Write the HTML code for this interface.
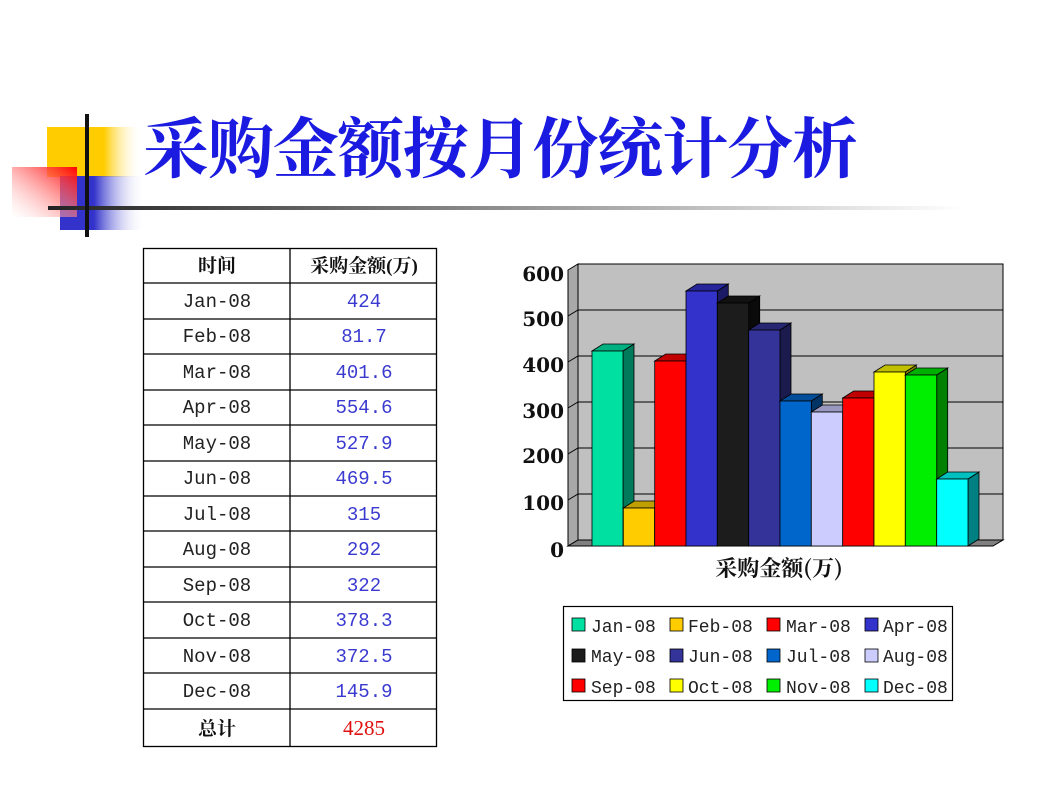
<!DOCTYPE html>
<html><head><meta charset="utf-8"><style>
html,body{margin:0;padding:0;background:#fff;width:1060px;height:795px;overflow:hidden}
svg{display:block}
.m{font-family:"Liberation Mono","Noto Sans CJK SC",monospace;font-size:19px;fill:#222}
.l{font-family:"Liberation Mono",monospace;font-size:18px;fill:#222}
.v{font-family:"Liberation Mono",monospace;font-size:19px;fill:#3a3ad0}
.h{font-family:"Liberation Serif","Noto Serif CJK SC",serif;font-size:19px;font-weight:bold;fill:#111}
.y{font-family:"DejaVu Serif","Liberation Serif",serif;font-size:20px;font-weight:bold;fill:#111}
</style></head><body>
<svg width="1060" height="795" viewBox="0 0 1060 795">
<defs>
<linearGradient id="gy" x1="0" x2="1"><stop offset="0.6" stop-color="#ffcc00"/><stop offset="1" stop-color="#fff" stop-opacity="0"/></linearGradient>
<linearGradient id="gb" x1="0" x2="1"><stop offset="0.4" stop-color="#3333cc"/><stop offset="1" stop-color="#fff" stop-opacity="0"/></linearGradient>
<linearGradient id="gr" x1="1" y1="0" x2="0" y2="1"><stop offset="0" stop-color="#ff0000"/><stop offset="1" stop-color="#fff" stop-opacity="0.3"/></linearGradient>
<linearGradient id="gl" x1="0" x2="1"><stop offset="0" stop-color="#222"/><stop offset="1" stop-color="#fff"/></linearGradient>
</defs>
<rect x="47" y="127" width="95" height="50" fill="url(#gy)"/>
<rect x="60" y="176" width="85" height="54" fill="url(#gb)"/>
<rect x="12" y="167" width="65" height="50" fill="url(#gr)"/>
<rect x="48" y="206" width="915" height="4" fill="url(#gl)"/>
<rect x="85" y="114" width="4" height="123" fill="#111"/>
<text x="143" y="172" font-family="'Noto Serif CJK SC','Liberation Serif',serif" font-weight="bold" font-size="66" fill="#1a1ae0" textLength="715">采购金额按月份统计分析</text>

<g stroke="#000" stroke-width="1.3" fill="none">
<rect x="143.5" y="248.5" width="293" height="498"/>
<line x1="290" y1="248" x2="290" y2="747"/>
<line x1="143" y1="283" x2="437" y2="283"/><line x1="143" y1="319" x2="437" y2="319"/>
<line x1="143" y1="354" x2="437" y2="354"/><line x1="143" y1="390" x2="437" y2="390"/>
<line x1="143" y1="425" x2="437" y2="425"/><line x1="143" y1="461" x2="437" y2="461"/>
<line x1="143" y1="496" x2="437" y2="496"/><line x1="143" y1="531" x2="437" y2="531"/>
<line x1="143" y1="567" x2="437" y2="567"/><line x1="143" y1="602" x2="437" y2="602"/>
<line x1="143" y1="638" x2="437" y2="638"/><line x1="143" y1="673" x2="437" y2="673"/>
<line x1="143" y1="709" x2="437" y2="709"/>
</g>
<g text-anchor="middle">
<text class="h" x="217" y="272">时间</text><text class="h" x="364" y="272">采购金额(万)</text>
<text class="m" x="217" y="307">Jan-08</text><text class="v" x="364" y="307">424</text>
<text class="m" x="217" y="342">Feb-08</text><text class="v" x="364" y="342">81.7</text>
<text class="m" x="217" y="378">Mar-08</text><text class="v" x="364" y="378">401.6</text>
<text class="m" x="217" y="413">Apr-08</text><text class="v" x="364" y="413">554.6</text>
<text class="m" x="217" y="449">May-08</text><text class="v" x="364" y="449">527.9</text>
<text class="m" x="217" y="484">Jun-08</text><text class="v" x="364" y="484">469.5</text>
<text class="m" x="217" y="520">Jul-08</text><text class="v" x="364" y="520">315</text>
<text class="m" x="217" y="555">Aug-08</text><text class="v" x="364" y="555">292</text>
<text class="m" x="217" y="591">Sep-08</text><text class="v" x="364" y="591">322</text>
<text class="m" x="217" y="626">Oct-08</text><text class="v" x="364" y="626">378.3</text>
<text class="m" x="217" y="662">Nov-08</text><text class="v" x="364" y="662">372.5</text>
<text class="m" x="217" y="697">Dec-08</text><text class="v" x="364" y="697">145.9</text>
<text class="h" x="217" y="735">总计</text>
<text x="364" y="735" font-family="'Liberation Serif',serif" font-size="21" fill="#e01010">4285</text>
</g>

<rect x="578" y="264" width="425" height="276" fill="#c0c0c0" stroke="#000" stroke-width="1"/>
<polygon points="568,270 578,264 578,540 568,546" fill="#a8a8a8" stroke="#000" stroke-width="1"/>
<polygon points="568,546 993,546 1003,540 578,540" fill="#808080" stroke="#000" stroke-width="1"/>
<g stroke="#000" stroke-width="1">
<polyline points="568,316 578,310 1003,310" fill="none"/>
<polyline points="568,362 578,356 1003,356" fill="none"/>
<polyline points="568,408 578,402 1003,402" fill="none"/>
<polyline points="568,454 578,448 1003,448" fill="none"/>
<polyline points="568,500 578,494 1003,494" fill="none"/>
</g>
<g text-anchor="end">
<text class="y" x="564" y="281">600</text><text class="y" x="564" y="326">500</text>
<text class="y" x="564" y="372">400</text><text class="y" x="564" y="418">300</text>
<text class="y" x="564" y="463">200</text><text class="y" x="564" y="510">100</text>
<text class="y" x="564" y="557">0</text>
</g>
<g stroke="#000" stroke-width="0.8">
<polygon points="623,351 634,344 634,539 623,546" fill="#007a5a"/><polygon points="592,351 603,344 634,344 623,351" fill="#00b080"/><rect x="592" y="351" width="31" height="195" fill="#00e0a0"/>
<polygon points="654.6,508 665.6,501 665.6,539 654.6,546" fill="#806600"/><polygon points="623.3,508 634.3,501 665.6,501 654.6,508" fill="#c0a000"/><rect x="623.3" y="508" width="31.3" height="38" fill="#ffcc00"/>
<polygon points="686,361 697,354 697,539 686,546" fill="#800000"/><polygon points="654.7,361 665.7,354 697,354 686,361" fill="#c00000"/><rect x="654.7" y="361" width="31.3" height="185" fill="#ff0000"/>
<polygon points="717.3,291 728.3,284 728.3,539 717.3,546" fill="#1a1a66"/><polygon points="686,291 697,284 728.3,284 717.3,291" fill="#26269a"/><rect x="686" y="291" width="31.3" height="255" fill="#3333cc"/>
<polygon points="748.7,303 759.7,296 759.7,539 748.7,546" fill="#0a0a0a"/><polygon points="717.3,303 728.3,296 759.7,296 748.7,303" fill="#111"/><rect x="717.3" y="303" width="31.4" height="243" fill="#1c1c1c"/>
<polygon points="780,330 791,323 791,539 780,546" fill="#1a1a4d"/><polygon points="748.7,330 759.7,323 791,323 780,330" fill="#262673"/><rect x="748.7" y="330" width="31.3" height="216" fill="#333399"/>
<polygon points="811.3,401 822.3,394 822.3,539 811.3,546" fill="#003366"/><polygon points="780,401 791,394 822.3,394 811.3,401" fill="#004d99"/><rect x="780" y="401" width="31.3" height="145" fill="#0066cc"/>
<polygon points="842.7,412 853.7,405 853.7,539 842.7,546" fill="#666680"/><polygon points="811.3,412 822.3,405 853.7,405 842.7,412" fill="#9999c0"/><rect x="811.3" y="412" width="31.4" height="134" fill="#ccccff"/>
<polygon points="874,398 885,391 885,539 874,546" fill="#800000"/><polygon points="842.7,398 853.7,391 885,391 874,398" fill="#c00000"/><rect x="842.7" y="398" width="31.3" height="148" fill="#ff0000"/>
<polygon points="905.3,372 916.3,365 916.3,539 905.3,546" fill="#808000"/><polygon points="874,372 885,365 916.3,365 905.3,372" fill="#c0c000"/><rect x="874" y="372" width="31.3" height="174" fill="#ffff00"/>
<polygon points="936.7,375 947.7,368 947.7,539 936.7,546" fill="#008000"/><polygon points="905.3,375 916.3,368 947.7,368 936.7,375" fill="#00b000"/><rect x="905.3" y="375" width="31.4" height="171" fill="#00ee00"/>
<polygon points="968,479 979,472 979,539 968,546" fill="#008080"/><polygon points="936.7,479 947.7,472 979,472 968,479" fill="#00c0c0"/><rect x="936.7" y="479" width="31.3" height="67" fill="#00ffff"/>
</g>
<text x="779" y="576" text-anchor="middle" font-family="'Noto Serif CJK SC','Liberation Serif',serif" font-weight="bold" font-size="22" fill="#111">采购金额(万)</text>

<rect x="563.5" y="606.5" width="389" height="94" fill="#fff" stroke="#000" stroke-width="1.2"/>
<g stroke="#000" stroke-width="0.8">
<rect x="572" y="618" width="13" height="13" fill="#00e0a0"/><rect x="670" y="618" width="13" height="13" fill="#ffcc00"/><rect x="767" y="618" width="13" height="13" fill="#ff0000"/><rect x="865" y="618" width="13" height="13" fill="#3333cc"/>
<rect x="572" y="649" width="13" height="13" fill="#1c1c1c"/><rect x="670" y="649" width="13" height="13" fill="#333399"/><rect x="767" y="649" width="13" height="13" fill="#0066cc"/><rect x="865" y="649" width="13" height="13" fill="#ccccff"/>
<rect x="572" y="679" width="13" height="13" fill="#ff0000"/><rect x="670" y="679" width="13" height="13" fill="#ffff00"/><rect x="767" y="679" width="13" height="13" fill="#00ee00"/><rect x="865" y="679" width="13" height="13" fill="#00ffff"/>
</g>
<g>
<text class="l" x="591" y="632">Jan-08</text><text class="l" x="688" y="632">Feb-08</text><text class="l" x="786" y="632">Mar-08</text><text class="l" x="883" y="632">Apr-08</text>
<text class="l" x="591" y="662">May-08</text><text class="l" x="688" y="662">Jun-08</text><text class="l" x="786" y="662">Jul-08</text><text class="l" x="883" y="662">Aug-08</text>
<text class="l" x="591" y="693">Sep-08</text><text class="l" x="688" y="693">Oct-08</text><text class="l" x="786" y="693">Nov-08</text><text class="l" x="883" y="693">Dec-08</text>
</g>
</svg>
</body></html>
